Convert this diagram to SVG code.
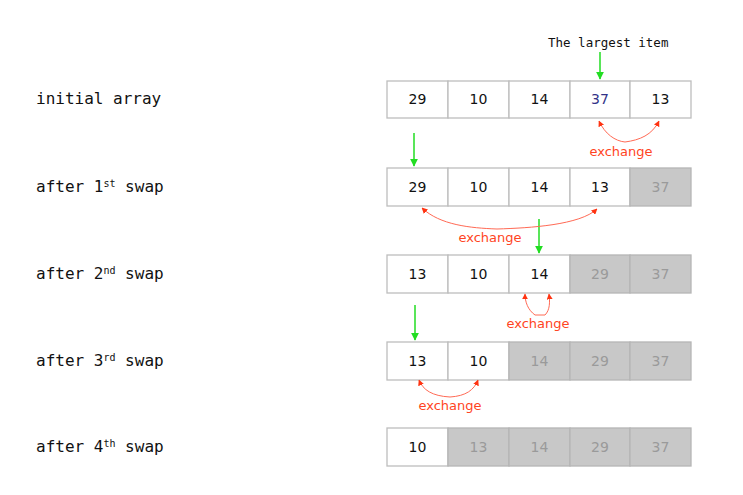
<svg xmlns="http://www.w3.org/2000/svg" width="743" height="495" viewBox="0 0 743 495">
<style>
.lbl{font-family:"DejaVu Sans Mono",monospace;font-size:16px;fill:#111}
.sup{font-size:10px}
.num{font-family:"DejaVu Sans","Noto Sans",sans-serif;font-size:14px;fill:#111;text-anchor:middle}
.dim{fill:#9a9a9a}
.c{fill:#fff;stroke:#bdbdbd;stroke-width:1.3}
.g{fill:#c8c8c8;stroke:#b5b5b5;stroke-width:1.3}
.ex{font-family:"DejaVu Sans","Noto Sans",sans-serif;font-size:13px;fill:#ff4422;text-anchor:middle}
.rl{fill:none;stroke:#ff6a55;stroke-width:1}
.gl{stroke:#22dd22;stroke-width:1.5}
</style>
<defs>
<marker id="ga" viewBox="0 0 10 10" refX="9" refY="5" markerWidth="8" markerHeight="8" markerUnits="userSpaceOnUse" orient="auto"><path d="M0,0 L10,5 L0,10 z" fill="#22dd22"/></marker>
<marker id="ra" viewBox="0 0 10 10" refX="9" refY="5" markerWidth="6" markerHeight="6" markerUnits="userSpaceOnUse" orient="auto"><path d="M0,0 L10,5 L0,10 z" fill="#ff3311"/></marker>
</defs>
<rect width="743" height="495" fill="#fff"/>
<text class="lbl" x="548" y="47" style="font-size:12.5px">The largest item</text>
<g id="labels">
<text class="lbl" x="36" y="104">initial array</text>
<text class="lbl" x="36" y="192">after 1<tspan class="sup" dy="-5">st</tspan><tspan dy="5"> swap</tspan></text>
<text class="lbl" x="36" y="279">after 2<tspan class="sup" dy="-5">nd</tspan><tspan dy="5"> swap</tspan></text>
<text class="lbl" x="36" y="366">after 3<tspan class="sup" dy="-5">rd</tspan><tspan dy="5"> swap</tspan></text>
<text class="lbl" x="36" y="452">after 4<tspan class="sup" dy="-5">th</tspan><tspan dy="5"> swap</tspan></text>
</g>
<g id="row1">
<rect class="c" x="387" y="81" width="61" height="37"/><rect class="c" x="448" y="81" width="61" height="37"/><rect class="c" x="509" y="81" width="61" height="37"/><rect class="c" x="570" y="81" width="60" height="37"/><rect class="c" x="630" y="81" width="61" height="37"/>
<text class="num" x="417.5" y="104">29</text><text class="num" x="478.5" y="104">10</text><text class="num" x="539.5" y="104">14</text><text class="num" x="600" y="104" style="fill:#333388">37</text><text class="num" x="660.5" y="104">13</text>
</g>
<g id="row2">
<rect class="c" x="387" y="168" width="61" height="38"/><rect class="c" x="448" y="168" width="61" height="38"/><rect class="c" x="509" y="168" width="61" height="38"/><rect class="c" x="570" y="168" width="60" height="38"/><rect class="g" x="630" y="168" width="61" height="38"/>
<text class="num" x="417.5" y="192">29</text><text class="num" x="478.5" y="192">10</text><text class="num" x="539.5" y="192">14</text><text class="num" x="600" y="192">13</text><text class="num dim" x="660.5" y="192">37</text>
</g>
<g id="row3">
<rect class="c" x="387" y="255" width="61" height="38"/><rect class="c" x="448" y="255" width="61" height="38"/><rect class="c" x="509" y="255" width="61" height="38"/><rect class="g" x="570" y="255" width="60" height="38"/><rect class="g" x="630" y="255" width="61" height="38"/>
<text class="num" x="417.5" y="279">13</text><text class="num" x="478.5" y="279">10</text><text class="num" x="539.5" y="279">14</text><text class="num dim" x="600" y="279">29</text><text class="num dim" x="660.5" y="279">37</text>
</g>
<g id="row4">
<rect class="c" x="387" y="342" width="61" height="38"/><rect class="c" x="448" y="342" width="61" height="38"/><rect class="g" x="509" y="342" width="61" height="38"/><rect class="g" x="570" y="342" width="60" height="38"/><rect class="g" x="630" y="342" width="61" height="38"/>
<text class="num" x="417.5" y="366">13</text><text class="num" x="478.5" y="366">10</text><text class="num dim" x="539.5" y="366">14</text><text class="num dim" x="600" y="366">29</text><text class="num dim" x="660.5" y="366">37</text>
</g>
<g id="row5">
<rect class="c" x="387" y="428" width="61" height="38"/><rect class="g" x="448" y="428" width="61" height="38"/><rect class="g" x="509" y="428" width="61" height="38"/><rect class="g" x="570" y="428" width="60" height="38"/><rect class="g" x="630" y="428" width="61" height="38"/>
<text class="num" x="417.5" y="452">10</text><text class="num dim" x="478.5" y="452">13</text><text class="num dim" x="539.5" y="452">14</text><text class="num dim" x="600" y="452">29</text><text class="num dim" x="660.5" y="452">37</text>
</g>
<g id="connectors">
<line class="gl" x1="600" y1="52" x2="600" y2="79" marker-end="url(#ga)"/>
<line class="gl" x1="414" y1="133" x2="414" y2="166" marker-end="url(#ga)"/>
<line class="gl" x1="539" y1="219" x2="539" y2="253" marker-end="url(#ga)"/>
<line class="gl" x1="415" y1="305" x2="415" y2="340" marker-end="url(#ga)"/>
<path class="rl" d="M625,142 C615,141 605,134 599,121" marker-end="url(#ra)"/>
<path class="rl" d="M625,142 C640,140 652,135 659,121" marker-end="url(#ra)"/>
<path class="rl" d="M497,229 C470,228 440,225 422,208" marker-end="url(#ra)"/>
<path class="rl" d="M497,229 C530,228 580,225 597,209" marker-end="url(#ra)"/>
<path class="rl" d="M535,315 C528,310 525,302 525,294" marker-end="url(#ra)"/>
<path class="rl" d="M545,315 C550,310 550,302 549,294" marker-end="url(#ra)"/>
<path class="rl" d="M450,397 C432,396 423,390 419,380" marker-end="url(#ra)"/>
<path class="rl" d="M450,397 C466,396 474,390 478,380" marker-end="url(#ra)"/>
<line class="rl" x1="535" y1="315" x2="545" y2="315"/>
</g>
<g id="exlabels">
<text class="ex" x="621" y="156">exchange</text>
<text class="ex" x="490" y="242">exchange</text>
<text class="ex" x="538" y="328">exchange</text>
<text class="ex" x="450" y="410">exchange</text>
</g>
</svg>
